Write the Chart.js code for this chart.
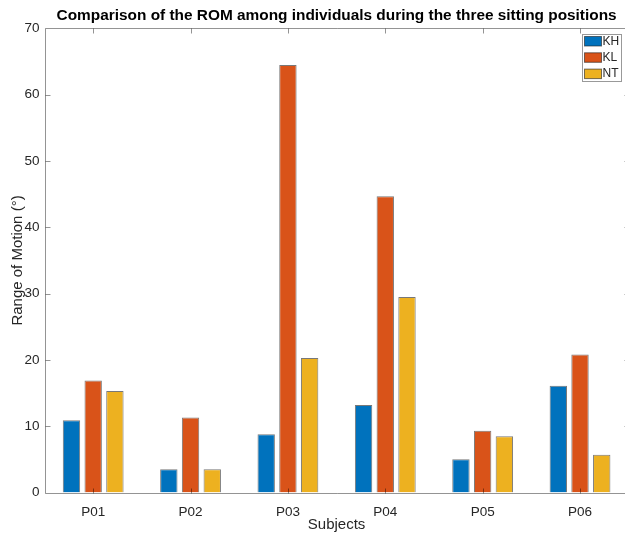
<!DOCTYPE html>
<html>
<head>
<meta charset="utf-8">
<script src="https://cdn.jsdelivr.net/npm/chart.js@4/dist/chart.umd.min.js"></script>
<style>
  html, body { margin: 0; padding: 0; background: #fff; }
  #wrap { width: 625px; height: 534px; overflow: hidden; position: relative; }
  canvas { display: block; }
</style>
</head>
<body>
<div id="wrap"><canvas id="c" width="640" height="534"></canvas></div>
<script>
// ---- data ----
const categories = ['P01', 'P02', 'P03', 'P04', 'P05', 'P06'];
const seriesNames = ['KH', 'KL', 'NT'];
const KH = [10.9, 3.5, 8.8, 13.2, 5.0, 16.1];
const KL = [16.9, 11.3, 64.5, 44.7, 9.3, 20.8];
const NT = [15.3, 3.5, 20.3, 29.5, 8.5, 5.7];
const yTicks = [0, 10, 20, 30, 40, 50, 60, 70];
const chartTitle = 'Comparison of the ROM among individuals during the three sitting positions';
const xTitle = 'Subjects';
const yTitle = 'Range of Motion (°)';

const colors = ['#0072BD', '#D95319', '#EDB120'];
const FONT = '"Liberation Sans", Arial, Helvetica, sans-serif';
const LINE = 'rgba(0,0,0,0.42)';

const seriesValues = [KH, KL, NT];
const datasets = seriesValues.map((vals, s) => ({
  label: seriesNames[s],
  data: vals.map((v, i) => ({ x: i + 1, y: v })),
  backgroundColor: colors[s],
  borderColor: 'rgba(30,30,30,0.6)',
  borderWidth: 1,
  borderSkipped: 'bottom',
  categoryPercentage: 0.669,
  barPercentage: 0.80
}));

const boxPlugin = {
  id: 'boxPlugin',
  afterDatasetsDraw(chart) {
    const { ctx, chartArea: a, scales } = chart;
    const xs = scales.x, ys = scales.y;
    ctx.save();
    ctx.strokeStyle = LINE;
    ctx.lineWidth = 1;
    ctx.beginPath();
    const L = Math.round(a.left) + 0.5, R = Math.round(a.right) + 0.5;
    const T = Math.round(a.top) + 0.5, B = Math.round(a.bottom) + 0.5;
    ctx.moveTo(L, T); ctx.lineTo(R, T); ctx.lineTo(R, B); ctx.lineTo(L, B); ctx.closePath();
    yTicks.forEach(v => {
      if (v === yTicks[0] || v === yTicks[yTicks.length - 1]) return;
      const y = Math.round(ys.getPixelForValue(v)) + 0.5;
      ctx.moveTo(L, y); ctx.lineTo(L + 5, y);
      ctx.moveTo(R, y); ctx.lineTo(R - 5, y);
    });
    categories.forEach((c, i) => {
      const x = Math.round(xs.getPixelForValue(i + 1)) + 0.5;
      ctx.moveTo(x, B); ctx.lineTo(x, B - 5);
      ctx.moveTo(x, T); ctx.lineTo(x, T + 5);
    });
    ctx.stroke();
    ctx.restore();
  },
  afterDraw(chart) {
    const { ctx } = chart;
    const bx = 582.5, by = 34.5, bw = 39, bh = 47;
    ctx.save();
    ctx.fillStyle = '#fff';
    ctx.fillRect(bx, by, bw, bh);
    ctx.strokeStyle = 'rgba(0,0,0,0.4)';
    ctx.lineWidth = 1;
    ctx.strokeRect(bx, by, bw, bh);
    chart.data.datasets.forEach((ds, i) => {
      const cy = 41 + i * 16.3;
      ctx.fillStyle = ds.backgroundColor;
      ctx.fillRect(584.5, cy - 4.5, 17, 9.5);
      ctx.strokeStyle = 'rgba(30,30,30,0.6)';
      ctx.strokeRect(584.5, cy - 4.5, 17, 9.5);
      ctx.fillStyle = '#262626';
      ctx.font = '12px ' + FONT;
      ctx.textBaseline = 'middle';
      ctx.textAlign = 'left';
      ctx.fillText(ds.label, 602.5, cy + 0.5);
    });
    ctx.restore();
  }
};

new Chart(document.getElementById('c'), {
  type: 'bar',
  data: { datasets },
  plugins: [boxPlugin],
  options: {
    responsive: false,
    animation: false,
    devicePixelRatio: 1,
    layout: { padding: { left: 0, right: 11.3, top: 0, bottom: 0 } },
    plugins: {
      legend: { display: false },
      tooltip: { enabled: false },
      title: {
        display: true,
        text: chartTitle,
        fullSize: false,
        color: '#000',
        font: { family: FONT, size: 15.4, weight: 'bold' },
        padding: { top: 6.5, bottom: 3.5 }
      }
    },
    scales: {
      x: {
        type: 'linear',
        min: 0.5,
        max: 6.5,
        offset: false,
        afterBuildTicks(scale) { scale.ticks = categories.map((c, i) => ({ value: i + 1 })); },
        afterFit(scale) { scale.height = 534 - 492.5; },
        ticks: {
          autoSkip: false,
          maxRotation: 0,
          padding: 12,
          color: '#262626',
          font: { family: FONT, size: 13.5 },
          callback: (v) => categories[Math.round(v) - 1]
        },
        grid: { display: false, drawTicks: false },
        border: { display: false },
        title: {
          display: true,
          text: xTitle,
          color: '#262626',
          font: { family: FONT, size: 15 },
          padding: { top: 0, bottom: 0 }
        }
      },
      y: {
        min: 0,
        max: 70,
        afterBuildTicks(scale) { scale.ticks = yTicks.map(v => ({ value: v })); },
        afterFit(scale) { scale.width = 44.5; },
        ticks: {
          padding: 5,
          color: '#262626',
          font: { family: FONT, size: 13.5 }
        },
        grid: { display: false, drawTicks: false },
        border: { display: false },
        title: {
          display: true,
          text: yTitle,
          color: '#262626',
          font: { family: FONT, size: 15 },
          padding: { top: 8.5, bottom: 0 }
        }
      }
    }
  }
});
</script>
</body>
</html>
